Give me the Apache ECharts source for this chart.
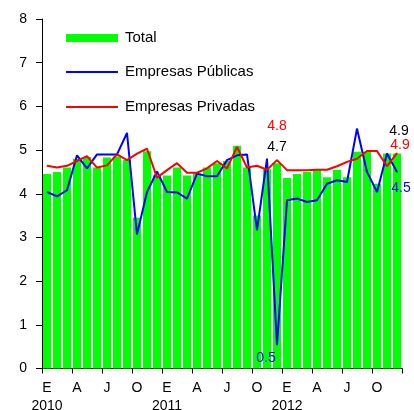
<!DOCTYPE html>
<html>
<head>
<meta charset="utf-8">
<script src="https://cdn.jsdelivr.net/npm/echarts@6/dist/echarts.min.js"></script>
<style>
  html, body { margin: 0; padding: 0; background: #fff; }
  #chart { width: 414px; height: 410px; }
</style>
</head>
<body>
<div id="chart"></div>
<script>
// monthly, Jan 2010 - Dec 2012
const months = ['E', 'F', 'M', 'A', 'M', 'J', 'J', 'A', 'S', 'O', 'N', 'D'];
const years = ['2010', '2011', '2012'];
const categories = years.flatMap(y => months.map((m, k) => y + '-' + k));

const total = [
  4.45, 4.5, 4.6, 4.8, 4.84, 4.6, 4.83, 4.85, 4.77, 3.45, 4.97, 4.42,
  4.42, 4.6, 4.42, 4.47, 4.6, 4.7, 4.75, 5.1, 4.6, 3.5, 4.56, 4.7,
  4.36, 4.45, 4.5, 4.55, 4.38, 4.55, 4.38, 4.96, 4.96, 4.23, 4.92, 4.92
];
const publicas = [
  4.04, 3.94, 4.08, 4.88, 4.58, 4.9, 4.9, 4.9, 5.39, 3.07, 4.04, 4.51,
  4.04, 4.03, 3.89, 4.46, 4.4, 4.4, 4.77, 4.88, 4.9, 3.17, 4.8, 0.54,
  3.85, 3.89, 3.81, 3.85, 4.23, 4.31, 4.27, 5.49, 4.5, 4.04, 4.92, 4.5
];
const privadas = [
  4.64, 4.6, 4.64, 4.75, 4.86, 4.6, 4.65, 4.9, 4.77, 4.92, 5.03, 4.37,
  4.54, 4.7, 4.48, 4.48, 4.58, 4.75, 4.58, 5.07, 4.6, 4.64, 4.55, 4.77,
  4.54, 4.54, 4.54, 4.55, 4.55, 4.63, 4.73, 4.8, 4.98, 4.98, 4.63, 4.93
];
const yTicks = [0, 8, 1];

const FONT = 'Liberation Sans';
const fmt = p => p.value.toFixed(1);

// labels only on Dec 2011 (index 23) and Dec 2012 (index 35)
function withLabels(values, labels) {
  return values.map((v, i) => labels[i] ? { value: v, label: Object.assign({ show: true, formatter: fmt }, labels[i]) } : v);
}

const lbl = { fontFamily: FONT, fontSize: 14 };
const totalData = withLabels(total, {
  23: Object.assign({ position: 'top', distance: 9, color: '#000' }, lbl),
  35: Object.assign({ position: 'top', distance: 15, color: '#000', offset: [2, 0] }, lbl)
});
const pubData = withLabels(publicas, {
  23: Object.assign({ position: 'bottom', distance: 6, color: '#0000ff', offset: [-11, 0] }, lbl),
  35: Object.assign({ position: 'bottom', distance: 9, color: '#0000ff', offset: [4, 0] }, lbl)
});
const privData = withLabels(privadas, {
  23: Object.assign({ position: 'top', distance: 26, color: '#ff0000' }, lbl),
  35: Object.assign({ position: 'top', distance: 0, color: '#ff0000', offset: [3, 0] }, lbl)
});

const legendBase = {
  orient: 'vertical',
  left: 66,
  padding: 0,
  itemWidth: 52,
  selectedMode: false,
  textStyle: { fontFamily: FONT, fontSize: 15, color: '#000', lineHeight: 16, padding: [0, 0, 0, 2] }
};

const chart = echarts.init(document.getElementById('chart'), null, { renderer: 'canvas' });
chart.setOption({
  animation: false,
  backgroundColor: '#fff',
  grid: { left: 42, right: 12, top: 19, bottom: 41.5, outerBoundsMode: 'none', containLabel: false },
  legend: [
    Object.assign({}, legendBase, { top: 30, itemHeight: 8, data: [{ name: 'Total', icon: 'rect' }] }),
    Object.assign({}, legendBase, { top: 64, itemHeight: 2, data: [{ name: 'Empresas Públicas', icon: 'rect' }] }),
    Object.assign({}, legendBase, { top: 99, itemHeight: 2, data: [{ name: 'Empresas Privadas', icon: 'rect' }] })
  ],
  xAxis: {
    type: 'category',
    data: categories,
    boundaryGap: true,
    axisLine: { lineStyle: { color: '#000', width: 1 } },
    axisTick: { show: true, interval: 2, length: 5, lineStyle: { color: '#000', width: 1 } },
    axisLabel: {
      interval: 2,
      margin: 11,
      color: '#000',
      fontFamily: FONT,
      fontSize: 14,
      lineHeight: 18,
      formatter: (v) => {
        const [y, k] = v.split('-');
        return k === '0' ? months[+k] + '\n' + y : months[+k];
      }
    },
    splitLine: { show: false }
  },
  yAxis: {
    type: 'value',
    min: yTicks[0],
    max: yTicks[1],
    interval: yTicks[2],
    axisLine: { show: true, lineStyle: { color: '#000', width: 1 } },
    axisTick: { show: true, length: 6, lineStyle: { color: '#000' } },
    axisLabel: { margin: 15, color: '#000', fontFamily: FONT, fontSize: 14 },
    splitLine: { show: false }
  },
  series: [
    {
      name: 'Total',
      type: 'bar',
      data: totalData,
      barCategoryGap: '20%',
      itemStyle: { color: '#00ff00' }
    },
    {
      name: 'Empresas Públicas',
      type: 'line',
      data: pubData,
      symbol: 'circle',
      symbolSize: 1,
      showAllSymbol: true,
      itemStyle: { color: '#0000ff' },
      lineStyle: { color: '#0000ff', width: 2 }
    },
    {
      name: 'Empresas Privadas',
      type: 'line',
      data: privData,
      symbol: 'circle',
      symbolSize: 1,
      showAllSymbol: true,
      itemStyle: { color: '#ff0000' },
      lineStyle: { color: '#ff0000', width: 2 }
    }
  ]
});
</script>
</body>
</html>
